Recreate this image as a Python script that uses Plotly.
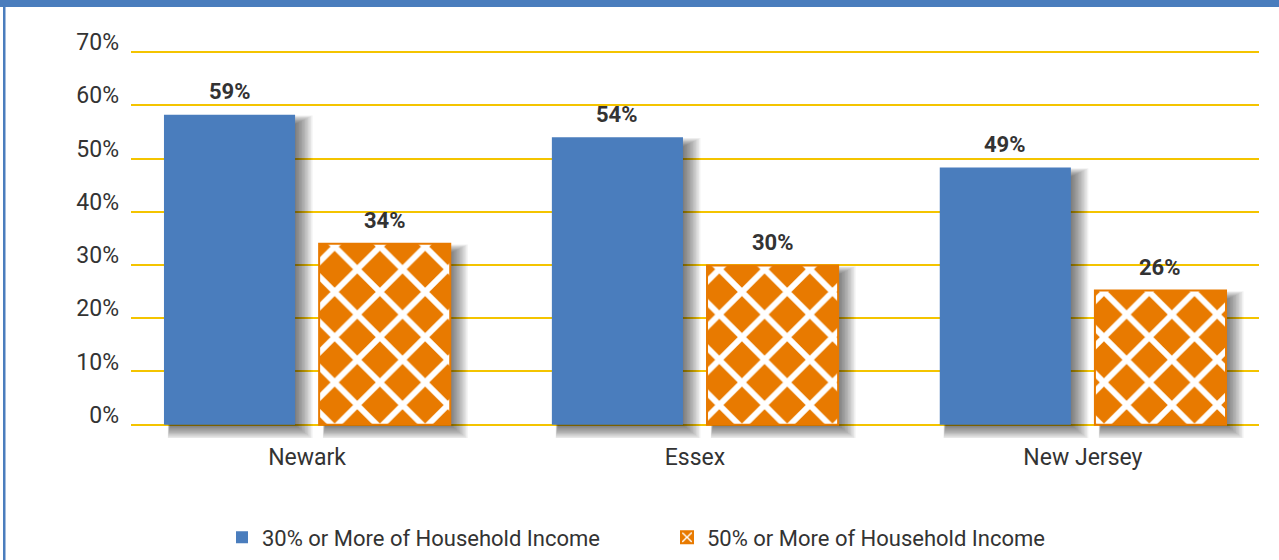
import plotly.graph_objects as go

# ---- data ----
categories = ["Newark", "Essex", "New Jersey"]
series_30 = [58.2, 54.0, 48.3]          # bar heights
series_50 = [34.0, 29.9, 25.2]
labels_30 = ["59%", "54%", "49%"]
labels_50 = ["34%", "30%", "26%"]
series_names = ["30% or More of Household Income", "50% or More of Household Income"]
y_ticks = [0, 10, 20, 30, 40, 50, 60, 70]
y_tick_labels = ["0%", "10%", "20%", "30%", "40%", "50%", "60%", "70%"]

# ---- layout geometry ----
W, H = 1279, 560
ML, MR, MT = 131, 20, 43
X_RANGE = [-0.454, 2.454]
Y_RANGE = [-2.5, 71.7]
PX_PER_PCT = 5.329
plot_h = (Y_RANGE[1] - Y_RANGE[0]) * PX_PER_PCT
MB = H - MT - plot_h
plot_w = W - ML - MR
px_per_x = plot_w / (X_RANGE[1] - X_RANGE[0])

BLUE = "#4A7DBD"
ORANGE = "#E87A00"
GRID = "#F4C400"
TEXT = "#333333"
FONT = "Roboto"

BAR_W = 0.338
OFF = 0.2
xs = list(range(len(categories)))

fig = go.Figure()

# soft drop shadows: many faint layers growing to the right / bottom
N_LAYERS = 12
for k in range(N_LAYERS):
    left_px = 6 - 0.2 * k
    right_px = 1 + 1.5 * k
    top_px = -9 + 0.75 * k      # negative = below bar top
    bottom_px = 1 + 1.2 * k
    for centre_off, vals in [(-OFF, series_30), (OFF, series_50)]:
        x0 = centre_off - BAR_W / 2 + left_px / px_per_x
        wdt = BAR_W + (right_px - left_px) / px_per_x
        base = -bottom_px / PX_PER_PCT
        fig.add_trace(go.Bar(
            x=xs, y=[v + top_px / PX_PER_PCT - base for v in vals],
            base=[base] * len(vals),
            width=wdt, offset=x0,
            marker=dict(color="rgba(0,0,0,0.055)", line=dict(width=0)),
            showlegend=False, hoverinfo="skip",
        ))

fig.add_trace(go.Bar(
    x=xs, y=series_30, name=series_names[0],
    width=BAR_W, offset=-OFF - BAR_W / 2,
    marker=dict(color=BLUE, line=dict(width=0)),
))
fig.add_trace(go.Bar(
    x=xs, y=series_50, name=series_names[1],
    width=BAR_W, offset=OFF - BAR_W / 2,
    marker=dict(color=ORANGE, line=dict(color=ORANGE, width=2),
                pattern=dict(shape="x", fgcolor="white", bgcolor=ORANGE,
                             size=32, solidity=0.33, fillmode="replace")),
))

annotations = []
for i in xs:
    for centre_off, vals, labs in [(-OFF, series_30, labels_30), (OFF, series_50, labels_50)]:
        annotations.append(dict(
            x=i + centre_off, y=vals[i], text=labs[i], showarrow=False,
            yshift=23, yanchor="middle", xanchor="center",
            font=dict(family=FONT, size=22, color=TEXT, weight="bold"),
        ))

def px_to_paper_x(px):
    return (px - ML) / plot_w

def px_to_paper_y(py):
    return (MT + plot_h - py) / plot_h

shapes = [
    dict(type="rect", xref="paper", yref="paper",
         x0=px_to_paper_x(0), x1=px_to_paper_x(W + 5),
         y0=px_to_paper_y(7), y1=px_to_paper_y(-5),
         fillcolor=BLUE, line=dict(width=0), layer="above"),
    dict(type="rect", xref="paper", yref="paper",
         x0=px_to_paper_x(3), x1=px_to_paper_x(5.5),
         y0=px_to_paper_y(H + 5), y1=px_to_paper_y(0),
         fillcolor=BLUE, line=dict(width=0), layer="above"),
]

fig.update_layout(
    width=W, height=H,
    margin=dict(l=ML, r=MR, t=MT, b=MB, pad=0, autoexpand=False),
    paper_bgcolor="white", plot_bgcolor="white",
    barmode="overlay",
    font=dict(family=FONT, size=22, color=TEXT),
    xaxis=dict(
        range=X_RANGE, tickmode="array", tickvals=xs, ticktext=categories,
        showgrid=False, zeroline=False, showline=False, ticks="", automargin=False,
        ticklabelstandoff=3,
        tickfont=dict(family=FONT, size=23, color=TEXT),
    ),
    yaxis=dict(
        range=Y_RANGE, tickmode="array", tickvals=y_ticks, ticktext=y_tick_labels,
        showgrid=True, gridcolor=GRID, gridwidth=1.5, zeroline=False, showline=False,
        ticks="", ticklabelposition="outside", ticklabelshift=-10,
        ticklabelstandoff=11, automargin=False,
        tickfont=dict(family=FONT, size=23, color=TEXT),
    ),
    legend=dict(
        orientation="h", x=px_to_paper_x(222), y=px_to_paper_y(538),
        xanchor="left", yanchor="middle",
        font=dict(family=FONT, size=22, color=TEXT),
        entrywidth=400, entrywidthmode="pixels", traceorder="normal",
    ),
    annotations=annotations,
    shapes=shapes,
    showlegend=True,
)

fig.write_html("out.html", config={"displayModeBar": False},
               post_script="document.body.style.margin='0';")
